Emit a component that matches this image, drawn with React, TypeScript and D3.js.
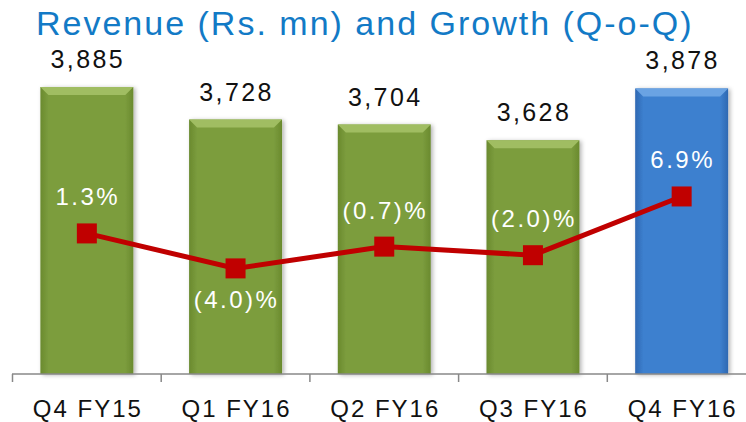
import React, { useEffect, useRef } from 'react';
import * as d3 from 'd3';

const categories = ['Q4 FY15', 'Q1 FY16', 'Q2 FY16', 'Q3 FY16', 'Q4 FY16'];
const revenue = [3885, 3728, 3704, 3628, 3878];
const growth = [1.3, -4.0, -0.7, -2.0, 6.9];
const growthLabels = ['1.3%', '(4.0)%', '(0.7)%', '(2.0)%', '6.9%'];
const labelBelow = [false, true, false, false, false];
const highlight = [false, false, false, false, true];

const App = () => {
  const ref = useRef<SVGSVGElement>(null);

  useEffect(() => {
    document.body.style.margin = '0';
    const width = 746;
    const height = 422;
    const baseY = 374;
    const font = '"Liberation Sans", Arial, sans-serif';

    const svg = d3.select(ref.current).attr('width', width).attr('height', height);
    svg.selectAll('*').remove();

    const defs = svg.append('defs');
    const grad = (id, edge, mid) => {
      const g = defs.append('linearGradient').attr('id', id).attr('x1', 0).attr('x2', 1).attr('y1', 0).attr('y2', 0);
      g.append('stop').attr('offset', 0).attr('stop-color', edge);
      g.append('stop').attr('offset', 0.09).attr('stop-color', mid);
      g.append('stop').attr('offset', 0.91).attr('stop-color', mid);
      g.append('stop').attr('offset', 1).attr('stop-color', edge);
    };
    grad('gGreen', '#6a8a2e', '#7c9d3e');
    grad('gBlue', '#2e68b2', '#3d80cf');
    defs.append('filter').attr('id', 'shadow').attr('x', '-10%').attr('width', '130%')
      .append('feDropShadow').attr('dx', 2).attr('dy', 1).attr('stdDeviation', 2)
      .attr('flood-color', '#000').attr('flood-opacity', 0.3);

    // Scales
    const x = d3.scaleBand()
      .domain(categories)
      .range([12.5, 756])
      .paddingInner(0.375)
      .paddingOuter(0.1875);

    const y = d3.scaleLinear().domain([2500, 4000]).range([baseY, baseY - 1500 * 0.2072]);
    const yg = d3.scaleLinear().domain([-20, 25]).range([baseY, baseY - 45 * 6.6]);

    // Title
    svg.append('text')
      .attr('x', 36)
      .attr('y', 35)
      .attr('font-family', font)
      .attr('font-size', 34)
      .attr('letter-spacing', 2)
      .attr('fill', '#127ac6')
      .text('Revenue (Rs. mn) and Growth (Q-o-Q)');

    // Bars
    const bars = svg.append('g').selectAll('g')
      .data(categories)
      .join('g')
      .attr('filter', 'url(#shadow)');

    bars.append('rect')
      .attr('x', d => x(d))
      .attr('y', (d, i) => y(revenue[i]))
      .attr('width', x.bandwidth())
      .attr('height', (d, i) => baseY - y(revenue[i]))
      .attr('fill', (d, i) => highlight[i] ? 'url(#gBlue)' : 'url(#gGreen)');

    bars.append('polygon')
      .attr('points', (d, i) => {
        const x0 = x(d);
        const x1 = x0 + x.bandwidth();
        const t = y(revenue[i]);
        return `${x0},${t} ${x1},${t} ${x1 - 8},${t + 8} ${x0 + 8},${t + 8}`;
      })
      .attr('fill', (d, i) => highlight[i] ? '#6aa3e3' : '#a0bd62');

    // Revenue labels
    svg.append('g').selectAll('text')
      .data(categories)
      .join('text')
      .attr('x', d => x(d) + x.bandwidth() / 2 + 1)
      .attr('y', (d, i) => y(revenue[i]) - 19)
      .attr('text-anchor', 'middle')
      .attr('font-family', font)
      .attr('font-size', 25)
      .attr('letter-spacing', 2.4)
      .attr('fill', '#111')
      .text((d, i) => d3.format(',')(revenue[i]));

    // Axis
    const axis = svg.append('g');
    axis.append('line')
      .attr('x1', 12).attr('x2', width)
      .attr('y1', baseY).attr('y2', baseY)
      .attr('stroke', '#888').attr('stroke-width', 1.5);
    const gap = (x.step() - x.bandwidth()) / 2;
    axis.selectAll('.tick')
      .data(categories)
      .join('line')
      .attr('x1', d => x(d) - gap).attr('x2', d => x(d) - gap)
      .attr('y1', baseY).attr('y2', baseY + 8)
      .attr('stroke', '#888').attr('stroke-width', 1.5);
    axis.selectAll('.lbl')
      .data(categories)
      .join('text')
      .attr('x', d => x(d) + x.bandwidth() / 2 + 1)
      .attr('y', 417)
      .attr('text-anchor', 'middle')
      .attr('font-family', font)
      .attr('font-size', 24)
      .attr('letter-spacing', 2)
      .attr('fill', '#111')
      .text(d => d);

    // Growth line
    const line = d3.line<number>()
      .x((d, i) => x(categories[i]) + x.bandwidth() / 2)
      .y(d => yg(d));

    svg.append('path')
      .datum(growth)
      .attr('d', line)
      .attr('fill', 'none')
      .attr('stroke', '#c00000')
      .attr('stroke-width', 5);

    svg.append('g').selectAll('rect')
      .data(growth)
      .join('rect')
      .attr('x', (d, i) => x(categories[i]) + x.bandwidth() / 2 - 10)
      .attr('y', d => yg(d) - 10)
      .attr('width', 20)
      .attr('height', 20)
      .attr('fill', '#c00000');

    svg.append('g').selectAll('text')
      .data(growth)
      .join('text')
      .attr('x', (d, i) => x(categories[i]) + x.bandwidth() / 2 + 1)
      .attr('y', (d, i) => labelBelow[i] ? yg(d) + 40 : yg(d) - 28)
      .attr('text-anchor', 'middle')
      .attr('font-family', font)
      .attr('font-size', 24)
      .attr('letter-spacing', 2.5)
      .attr('fill', '#fff')
      .text((d, i) => growthLabels[i]);
  }, []);

  return <svg ref={ref} style={{ display: 'block' }}></svg>;
};

export default App;
